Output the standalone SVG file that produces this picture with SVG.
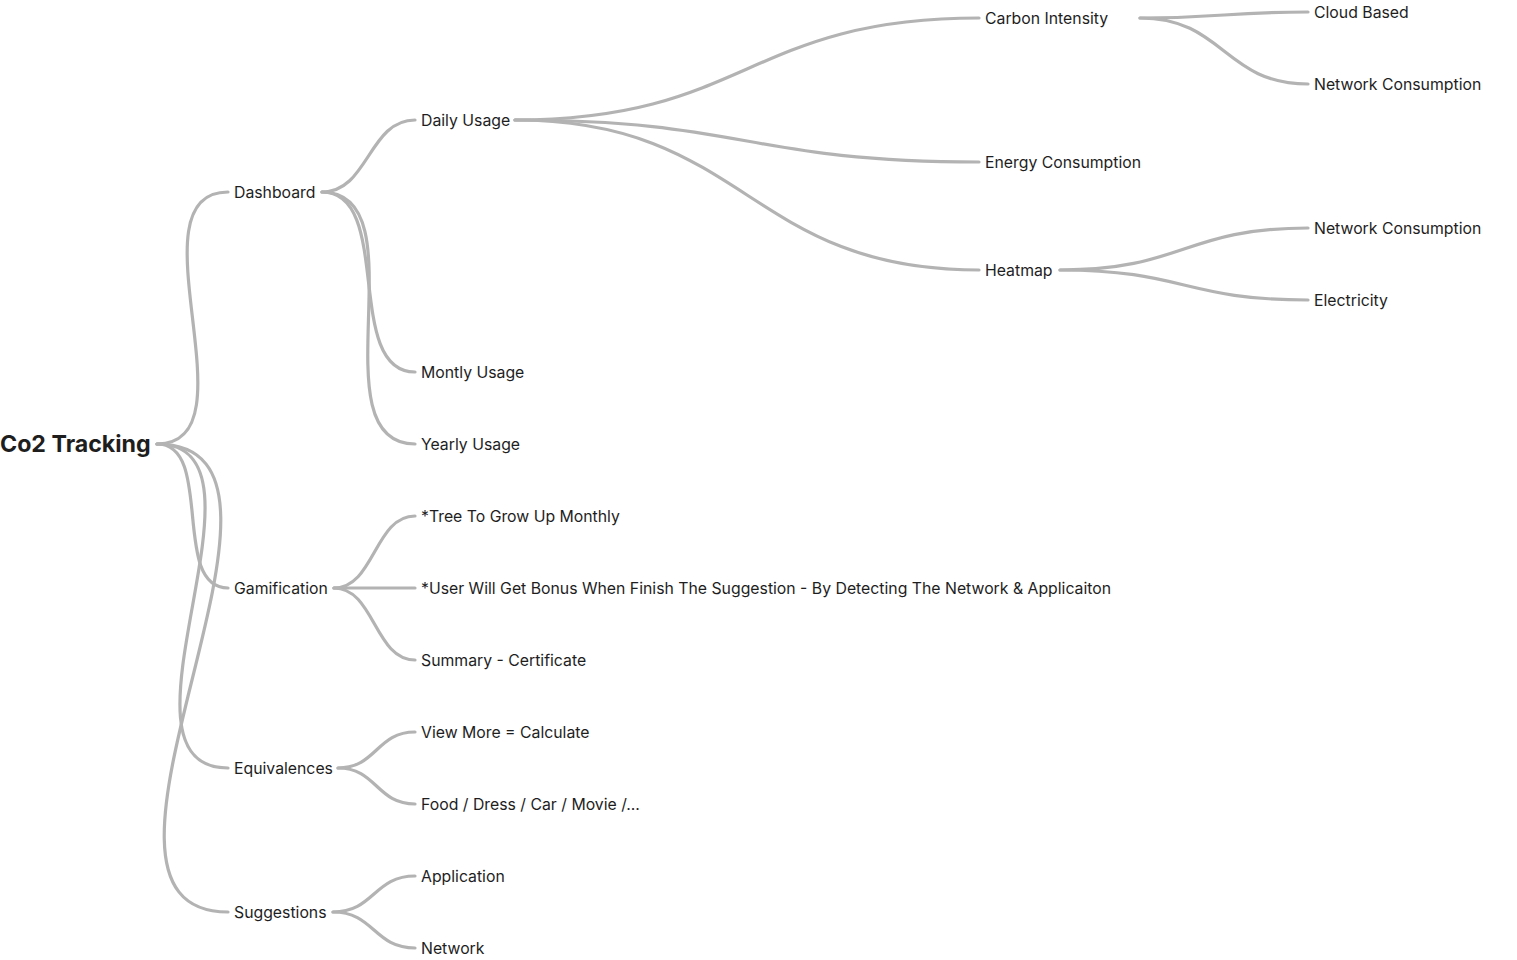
<svg xmlns="http://www.w3.org/2000/svg" width="1517" height="960" viewBox="0 0 1517 960">
<style>
.lk{fill:none;stroke:#b3b3b3;stroke-width:3.2;stroke-linecap:round}
.t{font-family:Inter,"Noto Sans","Liberation Sans",sans-serif;font-size:15.8px;fill:#1e1e1e}
.r{font-family:Inter,"Noto Sans","Liberation Sans",sans-serif;font-size:23.2px;font-weight:700;fill:#1e1e1e}
</style>
<rect width="1517" height="960" fill="#ffffff"/>
<g id="connectors">
<path class="lk" d="M157 444 C257.8 444 127.2 192 228 192"/>
<path class="lk" d="M157 444 C214.6 444 170.4 588 228 588"/>
<path class="lk" d="M157 444 C286.6 444 98.4 768 228 768"/>
<path class="lk" d="M157 444 C344.2 444 40.8 912 228 912"/>
<path class="lk" d="M322 192 C368.5 192 368.5 120 415 120"/>
<path class="lk" d="M322 192 C394 192 343 372 415 372"/>
<path class="lk" d="M322 192 C422.8 192 314.2 444 415 444"/>
<path class="lk" d="M515 120 C747 120 747 18 979 18"/>
<path class="lk" d="M515 120 C747 120 747 162 979 162"/>
<path class="lk" d="M515 120 C747 120 747 270 979 270"/>
<path class="lk" d="M1140 18 C1224 18 1224 12 1308 12"/>
<path class="lk" d="M1140 18 C1224 18 1224 84 1308 84"/>
<path class="lk" d="M1060 270 C1184 270 1184 228 1308 228"/>
<path class="lk" d="M1060 270 C1184 270 1184 300 1308 300"/>
<path class="lk" d="M334 588 C374.5 588 374.5 516 415 516"/>
<path class="lk" d="M334 588 L415 588"/>
<path class="lk" d="M334 588 C374.5 588 374.5 660 415 660"/>
<path class="lk" d="M338 768 C376.5 768 376.5 732 415 732"/>
<path class="lk" d="M338 768 C376.5 768 376.5 804 415 804"/>
<path class="lk" d="M333 912 C374 912 374 876 415 876"/>
<path class="lk" d="M333 912 C374 912 374 948 415 948"/>
</g>
<g id="root"><text class="r" x="0" y="452.3">Co2 Tracking</text></g>
<g id="dashboard"><text class="t" x="234" y="198">Dashboard</text></g>
<g id="daily-usage"><text class="t" x="421" y="126">Daily Usage</text></g>
<g id="montly-usage"><text class="t" x="421" y="378">Montly Usage</text></g>
<g id="yearly-usage"><text class="t" x="421" y="450">Yearly Usage</text></g>
<g id="carbon-intensity"><text class="t" x="985" y="24">Carbon Intensity</text></g>
<g id="energy-consumption"><text class="t" x="985" y="168">Energy Consumption</text></g>
<g id="heatmap"><text class="t" x="985" y="276">Heatmap</text></g>
<g id="cloud-based"><text class="t" x="1314" y="18">Cloud Based</text></g>
<g id="network-consumption-1"><text class="t" x="1314" y="90">Network Consumption</text></g>
<g id="network-consumption-2"><text class="t" x="1314" y="234">Network Consumption</text></g>
<g id="electricity"><text class="t" x="1314" y="306">Electricity</text></g>
<g id="gamification"><text class="t" x="234" y="594">Gamification</text></g>
<g id="tree"><text class="t" x="421" y="522">*Tree To Grow Up Monthly</text></g>
<g id="bonus"><text class="t" x="421" y="594">*User Will Get Bonus When Finish The Suggestion - By Detecting The Network &amp; Applicaiton</text></g>
<g id="summary"><text class="t" x="421" y="666">Summary - Certificate</text></g>
<g id="equivalences"><text class="t" x="234" y="774">Equivalences</text></g>
<g id="view-more"><text class="t" x="421" y="738">View More = Calculate</text></g>
<g id="food"><text class="t" x="421" y="810">Food / Dress / Car / Movie /...</text></g>
<g id="suggestions"><text class="t" x="234" y="918">Suggestions</text></g>
<g id="application"><text class="t" x="421" y="882">Application</text></g>
<g id="network"><text class="t" x="421" y="954">Network</text></g>
</svg>
